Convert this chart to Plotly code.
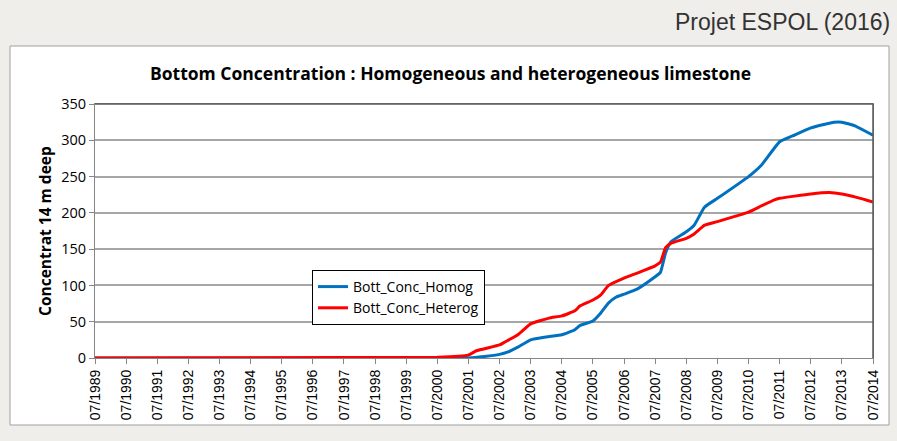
import plotly.graph_objects as go

# Bott_Conc_Homog (blue)
homog_dates = ['1989-07-01', '2000-07-01', '2001-07-01', '2002-01-01', '2002-07-01', '2002-10-01',
               '2003-02-01', '2003-07-01', '2004-01-01', '2004-07-01', '2004-12-01', '2005-02-01',
               '2005-07-01', '2005-10-01', '2006-01-01', '2006-04-01', '2006-07-01', '2006-12-01',
               '2007-07-01', '2007-09-01', '2007-11-01', '2008-01-01', '2008-07-01', '2008-10-01',
               '2009-02-01', '2009-07-01', '2010-07-01', '2010-12-01', '2011-07-01', '2011-12-01',
               '2012-07-01', '2013-04-01', '2013-07-01', '2013-12-01', '2014-07-01']
homog_vals = [0, 0, 0, 2, 5, 8,
              15, 25, 29, 32, 39, 45,
              51, 62, 76, 84, 88, 95,
              112, 118, 145, 160, 174, 183,
              208, 220, 250, 266, 298, 306,
              317, 325, 325, 320, 307]

# Bott_Conc_Heterog (red)
heterog_dates = ['1989-07-01', '2000-07-01', '2001-07-01', '2001-10-01', '2002-07-01', '2002-09-01',
                 '2003-02-01', '2003-07-01', '2004-02-01', '2004-07-01', '2004-12-01', '2005-02-01',
                 '2005-07-01', '2005-10-01', '2006-01-01', '2006-07-01', '2006-12-01', '2007-07-01',
                 '2007-09-01', '2007-11-01', '2008-01-01', '2008-07-01', '2008-10-01', '2009-02-01',
                 '2009-07-01', '2010-07-01', '2010-11-01', '2011-05-01', '2011-07-01', '2012-07-01',
                 '2013-02-01', '2013-07-01', '2014-01-01', '2014-07-01']
heterog_vals = [0, 1, 4, 10, 18, 22,
                32, 47, 55, 58, 65, 72,
                80, 87, 100, 110, 117, 127,
                132, 152, 158, 165, 171, 183,
                188, 201, 208, 218, 220, 226,
                228, 226, 221, 215]

tick_dates = ['%d-07-01' % y for y in range(1989, 2015)]
tick_labels = ['07/%d' % y for y in range(1989, 2015)]

W, H = 897, 441
L, R, T, B = 95, 873, 104, 358
def px(x): return (x - L) / (R - L)
def py(y): return (B - y) / (B - T)

fig = go.Figure()
fig.add_trace(go.Scatter(x=homog_dates, y=homog_vals, mode='lines', name='Bott_Conc_Homog',
                         line=dict(color='#0070C0', width=3, shape='spline', smoothing=0.4)))
fig.add_trace(go.Scatter(x=heterog_dates, y=heterog_vals, mode='lines', name='Bott_Conc_Heterog',
                         line=dict(color='#FF0000', width=3, shape='spline', smoothing=0.4)))

fig.update_layout(
    width=W, height=H,
    margin=dict(l=L, r=W - R, t=T, b=H - B),
    paper_bgcolor='#efeeea', plot_bgcolor='white',
    font=dict(family='Liberation Sans', size=13, color='black'),
    showlegend=True,
    legend=dict(x=px(312), y=py(270), xanchor='left', yanchor='top',
                bgcolor='white', bordercolor='black', borderwidth=1,
                font=dict(family='Open Sans', size=14), tracegroupgap=0,
                itemwidth=30),
    xaxis=dict(type='date', range=['1989-07-01', '2014-07-01'],
               tickvals=tick_dates, ticktext=tick_labels, tickangle=-90,
               ticks='outside', ticklen=5, tickcolor='#868686',
               showgrid=False, showline=True, linecolor='#868686', linewidth=1, mirror=True,
               tickfont=dict(family='Liberation Sans', size=14)),
    yaxis=dict(range=[0, 350], dtick=50, ticks='outside', ticklen=5, tickcolor='#868686',
               showgrid=True, gridcolor='#a6a6a6', gridwidth=1.5,
               showline=True, linecolor='#868686', linewidth=1, mirror=True, zeroline=False,
               tickfont=dict(family='Open Sans', size=14.5)),
    shapes=[
        dict(type='rect', xref='paper', yref='paper', layer='below',
             x0=px(10), x1=px(889), y0=py(425), y1=py(46),
             fillcolor='white', line=dict(color='#a0a0a0', width=1)),
        dict(type='line', xref='paper', yref='paper', x0=0, x1=1, y0=1, y1=1,
             line=dict(color='#595959', width=1.5)),
        dict(type='line', xref='paper', yref='paper', x0=1, x1=1, y0=0, y1=1,
             line=dict(color='#595959', width=1.5)),
    ],
    annotations=[
        dict(text='Projet ESPOL (2016)', xref='paper', yref='paper', x=px(892), y=py(22),
             xanchor='right', yanchor='middle', showarrow=False,
             font=dict(family='Liberation Sans', size=23, color='#333333')),
        dict(text='<b>Bottom Concentration : Homogeneous and heterogeneous limestone</b>',
             xref='paper', yref='paper', x=px(450), y=py(73), xanchor='center', yanchor='middle',
             showarrow=False, font=dict(family='Open Sans', size=17.5)),
        dict(text='<b>Concentrat 14 m deep</b>', xref='paper', yref='paper', x=px(45), y=py(231),
             xanchor='center', yanchor='middle', textangle=-90, showarrow=False,
             font=dict(family='Open Sans', size=15.5)),
    ],
)

fig.write_html('out.html', config={'displayModeBar': False},
               post_script="document.body.style.margin='0';document.body.style.background='#efeeea';")
